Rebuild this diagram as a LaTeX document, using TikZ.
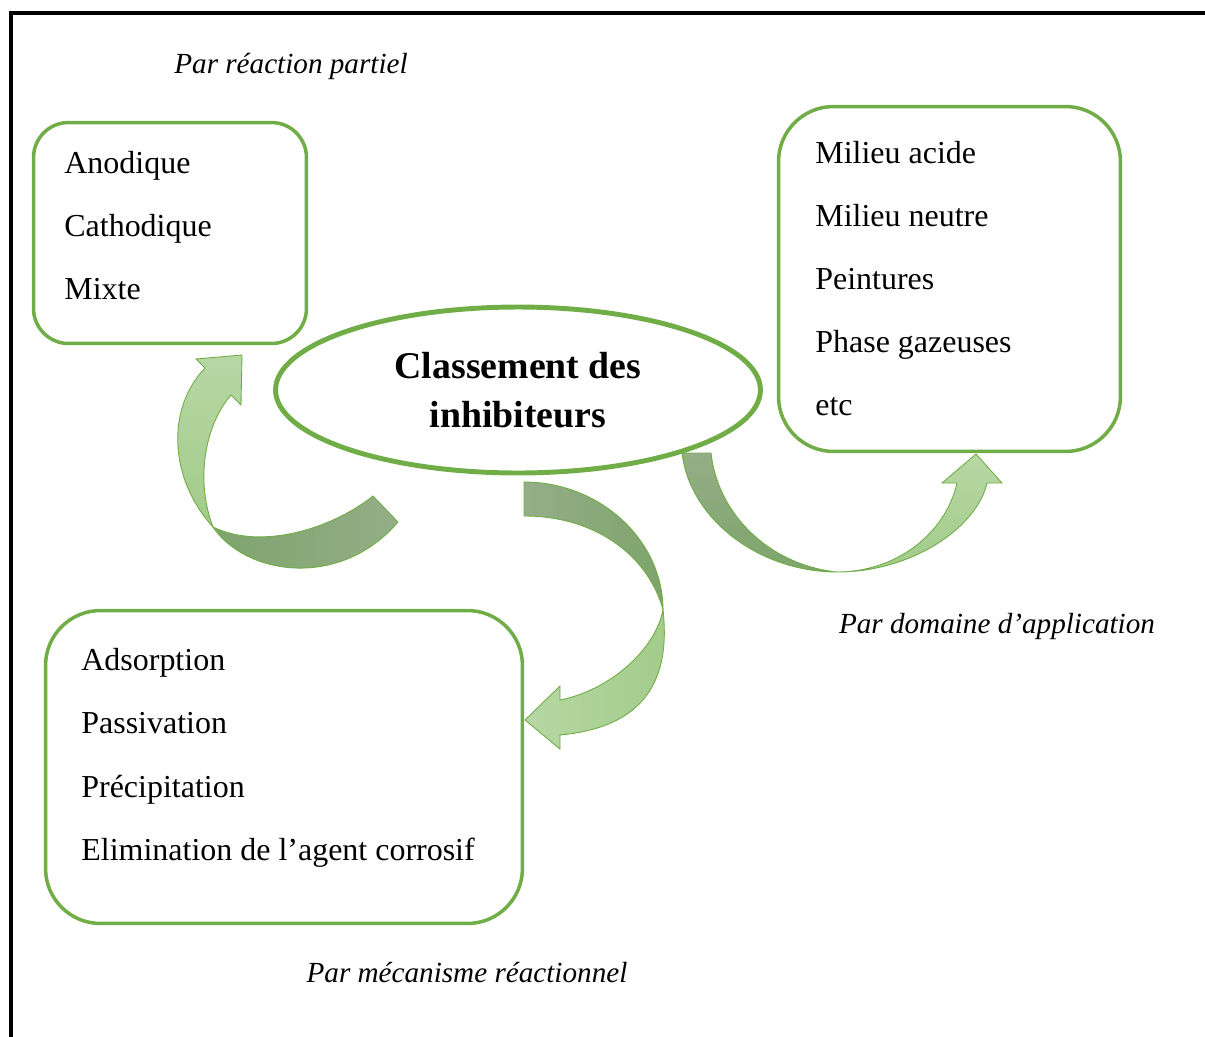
\documentclass[tikz,border=0pt]{standalone}
\usepackage{fontspec}
\setmainfont{Liberation Serif}
\usepackage{tikz}
\usetikzlibrary{shapes.geometric}
\definecolor{vert}{HTML}{70AD47}
\definecolor{sombreA}{HTML}{7EA46C}
\definecolor{sombreB}{HTML}{94AE87}
\definecolor{clairA}{HTML}{A2CB8A}
\definecolor{clairB}{HTML}{B7D7A4}
\begin{document}
\begin{tikzpicture}[x=0.02cm,y=-0.02cm,
  cadre/.style={draw=vert,line width=2pt,rectangle,inner sep=0pt},
  item/.style={anchor=base west,inner sep=0pt,font=\fontsize{18.2pt}{22pt}\selectfont},
  lab/.style={anchor=base,inner sep=0pt,font=\fontsize{16.6pt}{20pt}\selectfont\itshape},
  fleche/.style={draw=vert,line width=0.5pt,line join=miter}]
\useasboundingbox (0,0) rectangle (1205,1036);
\draw[line width=1.8pt] (11,1050) -- (11,13) -- (1220,13);
% fleches courbes
\draw[fleche,left color=sombreA,right color=sombreB] (373,496) .. controls (330,530) and (260,550) .. (213,527) .. controls (245,575) and (340,590) .. (398,522) -- cycle;
\draw[fleche,top color=clairB,bottom color=clairA] (213,527) .. controls (170,480) and (165,410) .. (205,368) -- (196,359) -- (242,355) -- (241,405) -- (231,395) .. controls (205,425) and (195,480) .. (213,527) -- cycle;
\draw[fleche,left color=sombreB,right color=sombreA] (524,482) .. controls (600,482) and (663,540) .. (663,610) .. controls (650,560) and (600,516) .. (524,516) -- cycle;
\draw[fleche,left color=clairB,right color=clairA] (663,610) .. controls (672,690) and (635,728) .. (560,735) -- (560,749) -- (525,720) -- (560,686) -- (560,700) .. controls (610,690) and (655,650) .. (663,610) -- cycle;
\draw[fleche,top color=sombreB,bottom color=sombreA] (682,453) .. controls (690,520) and (760,572) .. (837,572) .. controls (770,565) and (718,515) .. (711,453) -- cycle;
\draw[fleche,top color=clairB,bottom color=clairA] (837,572) .. controls (915,572) and (978,525) .. (987,483) -- (1002,483) -- (976,454) -- (942,483) -- (957,483) .. controls (945,535) and (895,572) .. (837,572) -- cycle;
% noeuds
\node[draw=vert,fill=white,line width=2.8pt,ellipse,inner sep=0pt,minimum width=9.7cm,minimum height=3.32cm,align=center,font=\fontsize{21.5pt}{27.9pt}\selectfont\bfseries] (classe) at (518,390) {Classement des\\inhibiteurs};
\node[cadre,rounded corners=0.7cm,minimum width=5.46cm,minimum height=4.42cm] (partiel) at (170,233) {};
\node[cadre,rounded corners=1.1cm,minimum width=6.84cm,minimum height=6.9cm] (domaine) at (949.5,279) {};
\node[cadre,rounded corners=1.1cm,minimum width=9.54cm,minimum height=6.26cm] (mecanisme) at (284,767) {};
\node[item] (anod) at (64,173) {Anodique};
\node[item] (cath) at (64,236) {Cathodique};
\node[item] (mixte) at (64,299) {Mixte};
\node[item] (acide) at (815,163) {Milieu acide};
\node[item] (neutre) at (815,226) {Milieu neutre};
\node[item] (peint) at (815,289) {Peintures};
\node[item] (gaz) at (815,352) {Phase gazeuses};
\node[item] (etc) at (815,415) {etc};
\node[item] (adsor) at (81,670) {Adsorption};
\node[item] (passiv) at (81,733) {Passivation};
\node[item] (precip) at (81,797) {Précipitation};
\node[item] (elim) at (81,860) {Elimination de l’agent corrosif};
\node[lab] (lpartiel) at (291,73) {Par réaction partiel};
\node[lab] (ldomaine) at (997,633) {Par domaine d’application};
\node[lab] (lmeca) at (467,982) {Par mécanisme réactionnel};
\end{tikzpicture}
\end{document}
